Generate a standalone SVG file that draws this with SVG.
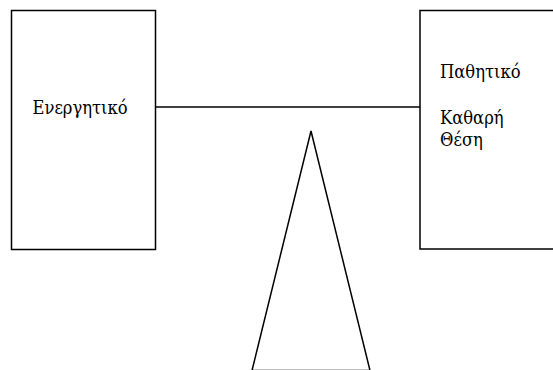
<svg xmlns="http://www.w3.org/2000/svg" width="553" height="370" viewBox="0 0 553 370">
  <style>
    .shape { fill: #ffffff; stroke: #000000; stroke-width: 1.5; }
    .wire { fill: none; stroke: #000000; stroke-width: 1.5; }
    .lbl { font-family: "DejaVu Serif Condensed", "Liberation Serif", serif; font-size: 18.2px; fill: #000000; }
  </style>
  <rect width="553" height="370" fill="#ffffff"/>

  <!-- connector: beam between the two boxes -->
  <g id="connectors">
    <line class="wire" x1="155.5" y1="107" x2="420" y2="107"/>
  </g>

  <!-- fulcrum -->
  <g id="fulcrum">
    <polygon class="shape" points="311,131 252,370.5 370,370.5"/>
  </g>

  <!-- left box: assets -->
  <g id="assets">
    <rect class="shape" x="11.5" y="10.5" width="144" height="239"/>
    <text class="lbl" x="32.5" y="114">Ενεργητικό</text>
  </g>

  <!-- right box: liabilities and equity -->
  <g id="liabilities">
    <rect class="shape" x="420" y="10.5" width="140" height="238.5"/>
    <text class="lbl" x="440" y="78.3">Παθητικό</text>
    <text class="lbl" x="440" y="124">Καθαρή</text>
    <text class="lbl" x="440" y="145.5">Θέση</text>
  </g>
</svg>
